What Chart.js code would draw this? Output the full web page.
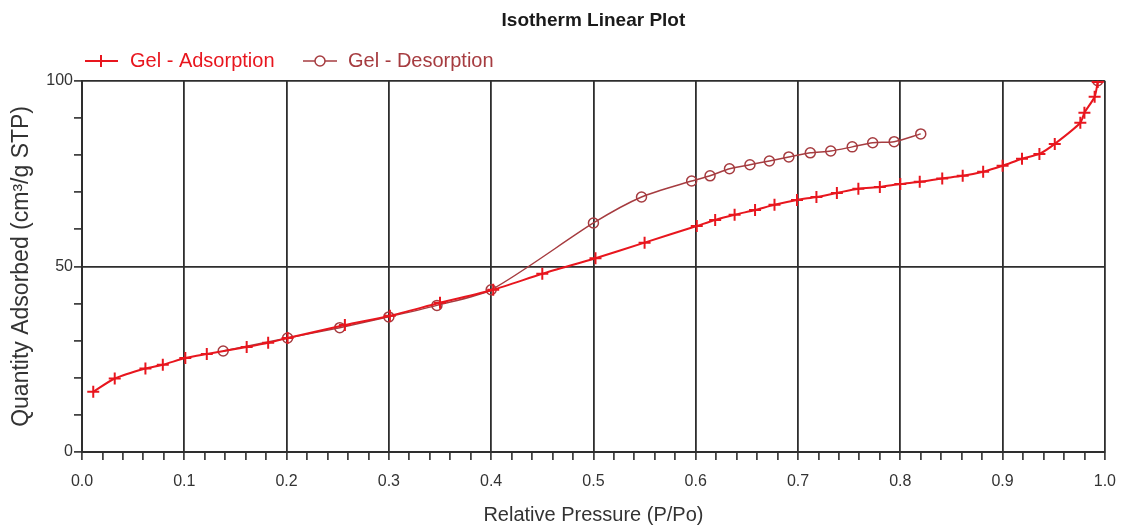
<!DOCTYPE html>
<html>
<head>
<meta charset="utf-8">
<script src="https://cdn.jsdelivr.net/npm/chart.js@4.4.1/dist/chart.umd.min.js"></script>
<style>
  html, body { margin: 0; padding: 0; background: #fff; }
  #wrap { width: 1128px; height: 527px; position: relative; }
</style>
</head>
<body>
<div id="wrap"><canvas id="isotherm"></canvas></div>
<script>
// Adsorption branch (P/Po, quantity)
const pressureAds = [0.011, 0.032, 0.062, 0.079, 0.101, 0.122, 0.161, 0.182, 0.201, 0.257, 0.301, 0.350, 0.402, 0.450, 0.502, 0.550,
    0.601, 0.619, 0.638, 0.658, 0.677, 0.699, 0.718, 0.738, 0.759, 0.780, 0.800, 0.819, 0.841, 0.861, 0.881, 0.900, 0.919, 0.936,
    0.951, 0.976, 0.980, 0.990, 0.993];
const quantityAds = [16.2, 19.8, 22.5, 23.5, 25.3, 26.4, 28.3, 29.4, 30.7, 34.2, 36.7, 40.2, 43.7, 48.0, 52.2, 56.4,
    60.9, 62.5, 63.9, 65.2, 66.6, 67.9, 68.7, 69.8, 70.9, 71.4, 72.2, 72.8, 73.7, 74.4, 75.5, 77.1, 79.0, 80.3,
    83.0, 88.7, 91.4, 95.7, 99.7];

// Desorption branch (null = part of the curve missing in the plot)
const pressureDes = [0.138, 0.201, 0.252, 0.300, 0.347, 0.400, 0.500, 0.547, 0.596, 0.614, 0.633, 0.653, 0.672, 0.691, 0.712,
    0.732, 0.753, 0.773, 0.794, 0.820, 0.900, 0.993];
const quantityDes = [27.2, 30.7, 33.5, 36.4, 39.5, 43.7, 61.7, 68.7, 73.0, 74.4, 76.3, 77.4, 78.4, 79.5, 80.6,
    81.1, 82.2, 83.3, 83.6, 85.7, null, 100.0];

// Tick labels
const xTickLabels = ['0.0', '0.1', '0.2', '0.3', '0.4', '0.5', '0.6', '0.7', '0.8', '0.9', '1.0'];
const yTickLabels = ['0', '50', '100'];

const RED = '#e8161e';
const BROWN = '#a63c40';
const GRID = '#2e2e2e';
const FONT = "'Liberation Sans', Arial, sans-serif";

function toPoints(xs, ys) {
    return xs.map((x, i) => ({ x: x, y: ys[i] }));
}

function isMajorX(v) {
    return Math.abs(v * 10 - Math.round(v * 10)) < 1e-6;
}

function isMajorY(v) {
    return Math.abs(v / 50 - Math.round(v / 50)) < 1e-6;
}

// Legend with line + marker, like the original plot software draws it
const lineLegend = {
    id: 'lineLegend',
    afterDraw(chart) {
        const ctx = chart.ctx;
        const left = chart.chartArea.left;
        const y = 61;
        ctx.save();
        ctx.font = '20px ' + FONT;
        ctx.textBaseline = 'middle';
        ctx.textAlign = 'left';

        // Adsorption
        ctx.strokeStyle = RED;
        ctx.lineWidth = 2;
        ctx.beginPath();
        ctx.moveTo(left + 3, y);
        ctx.lineTo(left + 36, y);
        ctx.moveTo(left + 19, y - 6);
        ctx.lineTo(left + 19, y + 6);
        ctx.stroke();
        ctx.fillStyle = RED;
        ctx.fillText('Gel - Adsorption', left + 48, y);

        // Desorption
        ctx.strokeStyle = BROWN;
        ctx.lineWidth = 1.5;
        ctx.beginPath();
        ctx.moveTo(left + 221, y);
        ctx.lineTo(left + 255, y);
        ctx.stroke();
        ctx.fillStyle = '#fff';
        ctx.beginPath();
        ctx.arc(left + 238, y, 5, 0, Math.PI * 2);
        ctx.fill();
        ctx.stroke();
        ctx.fillStyle = BROWN;
        ctx.fillText('Gel - Desorption', left + 266, y);
        ctx.restore();
    }
};

new Chart(document.getElementById('isotherm'), {
    type: 'scatter',
    data: {
        datasets: [{
            label: 'Gel - Adsorption',
            data: toPoints(pressureAds, quantityAds),
            showLine: true,
            borderColor: RED,
            backgroundColor: RED,
            borderWidth: 2,
            tension: 0.25,
            pointStyle: 'cross',
            pointRadius: 6,
            pointBorderWidth: 2,
            pointBorderColor: RED,
            order: 1
        }, {
            label: 'Gel - Desorption',
            data: toPoints(pressureDes, quantityDes),
            showLine: true,
            spanGaps: false,
            borderColor: BROWN,
            backgroundColor: 'rgba(255,255,255,0)',
            borderWidth: 1.5,
            tension: 0.25,
            pointStyle: 'circle',
            pointRadius: 5,
            pointBorderWidth: 1.5,
            pointBorderColor: BROWN,
            order: 2
        }]
    },
    options: {
        responsive: true,
        maintainAspectRatio: false,
        animation: false,
        layout: { padding: { left: 0, right: 23, top: 0, bottom: 0 } },
        plugins: {
            legend: { display: false },
            tooltip: { enabled: false },
            title: {
                display: true,
                fullSize: false,
                text: 'Isotherm Linear Plot',
                color: '#1a1a1a',
                font: { family: FONT, size: 19, weight: 'bold' },
                padding: { top: 9, bottom: 49 }
            }
        },
        scales: {
            x: {
                type: 'linear',
                min: 0,
                max: 1,
                border: { display: true, color: GRID, width: 2 },
                grid: {
                    color: (c) => isMajorX(c.tick.value) ? GRID : 'rgba(0,0,0,0)',
                    lineWidth: 1.8,
                    tickColor: GRID,
                    tickLength: 8,
                    tickWidth: 1.6
                },
                ticks: {
                    stepSize: 0.02,
                    autoSkip: false,
                    maxTicksLimit: 100,
                    maxRotation: 0,
                    padding: 12,
                    color: '#333',
                    font: { family: FONT, size: 16 },
                    callback: (v) => isMajorX(v) ? xTickLabels[Math.round(v * 10)] : ''
                },
                title: {
                    display: true,
                    text: 'Relative Pressure (P/Po)',
                    color: '#333',
                    font: { family: FONT, size: 20 },
                    padding: { top: 0, bottom: 0 }
                },
                afterFit: (scale) => { scale.height = 75; }
            },
            y: {
                type: 'linear',
                min: 0,
                max: 100,
                border: { display: true, color: GRID, width: 2 },
                grid: {
                    color: (c) => isMajorY(c.tick.value) ? GRID : 'rgba(0,0,0,0)',
                    lineWidth: 1.8,
                    tickColor: GRID,
                    tickLength: 8,
                    tickWidth: 1.6
                },
                ticks: {
                    stepSize: 10,
                    autoSkip: false,
                    maxTicksLimit: 100,
                    padding: 1,
                    color: '#333',
                    font: { family: FONT, size: 16 },
                    callback: (v) => isMajorY(v) ? yTickLabels[Math.round(v / 50)] : ''
                },
                title: {
                    display: true,
                    text: 'Quantity Adsorbed (cm³/g STP)',
                    color: '#333',
                    font: { family: FONT, size: 23 },
                    padding: { top: 8, bottom: 0 }
                },
                afterFit: (scale) => { scale.width = 82; }
            }
        }
    },
    plugins: [lineLegend]
});
</script>
</body>
</html>
